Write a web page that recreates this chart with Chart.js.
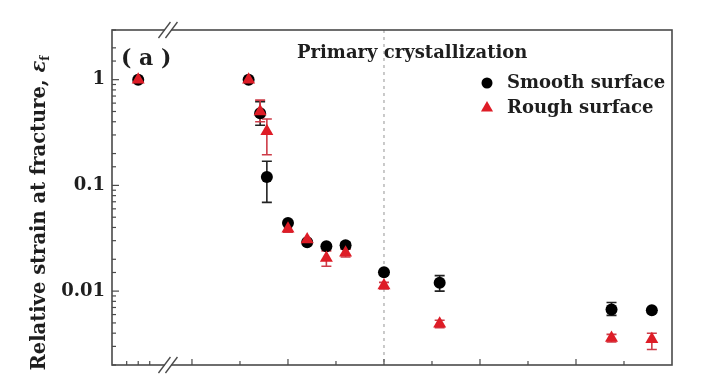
<!DOCTYPE html>
<html><head><meta charset="utf-8">
<script src="https://cdn.jsdelivr.net/npm/chart.js@4.4.1/dist/chart.umd.min.js"></script>
<style>html,body{margin:0;padding:0;background:#fff;}canvas{display:block}</style>
</head><body>
<canvas id="c" width="714" height="376"></canvas>
<script>
// ---- data ----
const xValues      = [44, 159, 171, 178, 200, 220, 240, 260, 300, 358, 537, 579];
const smoothValues = [1, 1, 0.48, 0.12, 0.044, 0.029, 0.0266, 0.0272, 0.0151, 0.012, 0.0067, 0.0066];
const smoothLow    = [null, null, 0.37, 0.069, null, null, null, 0.025, null, 0.0100, 0.0059, null];
const smoothHigh   = [null, null, 0.62, 0.169, null, null, null, 0.029, null, 0.0140, 0.0078, null];
const roughValues  = [1, 1, 0.50, 0.325, 0.0388, 0.0307, 0.0206, 0.023, 0.0113, 0.0049, 0.0036, 0.0035];
const roughLow     = [null, null, 0.40, 0.195, 0.036, null, 0.0172, 0.021, 0.0105, 0.0045, 0.0033, 0.0028];
const roughHigh    = [null, null, 0.64, 0.425, 0.042, null, 0.024, 0.025, 0.0121, 0.0053, 0.0039, 0.0040];
const yTickLabels  = [1, 0.1, 0.01];
const xMajorTicks  = [100, 200, 300, 400, 500];
const xMinorTicks  = [150, 250, 350, 450, 550];
const xPreBreakTicks = [32, 44, 56];
const breakX = 75;
const crystallizationX = 300;
const seriesNames = ['Smooth surface', 'Rough surface'];
const annotationText = 'Primary crystallization';
const panelLabel = '( a )';
const yTitle = ['Relative strain at fracture, ', 'ε', 'f'];

const FONT = '"DejaVu Serif", serif';
const FS = 18;
const TFS = 19.5;
const RED = 'rgb(222,28,38)';
const AXIS = '#4a4a4a';
const TEXT = '#1e1e1e';

const toPts = (ys) => xValues.map((x, i) => ({x, y: ys[i]}));

const decor = {
  id: 'decor',
  beforeDatasetsDraw(chart) {
    const {ctx, chartArea: a, scales: {x, y}} = chart;
    ctx.save();
    const px = x.getPixelForValue(crystallizationX);
    ctx.strokeStyle = '#b8b8b8'; ctx.lineWidth = 1.5; ctx.setLineDash([3, 4]);
    ctx.beginPath(); ctx.moveTo(px, a.top); ctx.lineTo(px, a.bottom); ctx.stroke();
    ctx.setLineDash([]);
    ctx.strokeStyle = AXIS; ctx.lineWidth = 1.6;
    ctx.strokeRect(a.left, a.top, a.right - a.left, a.bottom - a.top);
    ctx.lineWidth = 1.2;
    y.ticks.forEach(t => {
      const v = t.value;
      const lg = Math.log10(v);
      const major = Math.abs(lg - Math.round(lg)) < 1e-6;
      const py = y.getPixelForValue(v);
      if (py < a.top || py > a.bottom) return;
      ctx.beginPath(); ctx.moveTo(a.left, py); ctx.lineTo(a.left + (major ? 7 : 4), py); ctx.stroke();
    });
    const xt = (v, len) => { const p = x.getPixelForValue(v); ctx.beginPath(); ctx.moveTo(p, a.bottom); ctx.lineTo(p, a.bottom - len); ctx.stroke(); };
    xMajorTicks.forEach(v => xt(v, 6));
    xMinorTicks.forEach(v => xt(v, 4));
    xPreBreakTicks.forEach(v => xt(v, 4));
    const bars = (lo, hi, color) => {
      ctx.strokeStyle = color; ctx.lineWidth = 1.6;
      xValues.forEach((xv, i) => {
        if (lo[i] == null) return;
        const p = x.getPixelForValue(xv), y1 = y.getPixelForValue(lo[i]), y2 = y.getPixelForValue(hi[i]);
        ctx.beginPath();
        ctx.moveTo(p, y1); ctx.lineTo(p, y2);
        ctx.moveTo(p - 5, y1); ctx.lineTo(p + 5, y1);
        ctx.moveTo(p - 5, y2); ctx.lineTo(p + 5, y2);
        ctx.stroke();
      });
    };
    bars(smoothLow, smoothHigh, '#222');
    bars(roughLow, roughHigh, 'rgb(205,60,72)');
    ctx.restore();
  },
  afterDraw(chart) {
    const {ctx, chartArea: a, scales: {x}} = chart;
    ctx.save();
    const bx = x.getPixelForValue(breakX);
    [a.top, a.bottom].forEach(yy => {
      ctx.fillStyle = '#fff';
      ctx.fillRect(bx - 3, yy - 2, 6, 4);
      ctx.strokeStyle = AXIS; ctx.lineWidth = 1.4;
      [-3.5, 3.5].forEach(d => {
        ctx.beginPath(); ctx.moveTo(bx + d - 6, yy + 8); ctx.lineTo(bx + d + 6, yy - 8); ctx.stroke();
      });
    });
    ctx.fillStyle = TEXT;
    ctx.font = 'bold 22px ' + FONT; ctx.textBaseline = 'alphabetic'; ctx.textAlign = 'left';
    ctx.fillText(panelLabel, a.left + 9, 65);
    ctx.font = 'bold ' + FS + 'px ' + FONT;
    ctx.fillText(annotationText, 297, 58);
    ctx.textBaseline = 'middle';
    ctx.fillText(seriesNames[0], 507, 83);
    ctx.fillText(seriesNames[1], 507, 108);
    ctx.fillStyle = '#000';
    ctx.beginPath(); ctx.arc(487, 83, 5.5, 0, Math.PI * 2); ctx.fill();
    ctx.fillStyle = RED;
    const r = 7;
    ctx.beginPath();
    ctx.moveTo(487, 108 - r);
    ctx.lineTo(487 + r * Math.sin(2 * Math.PI / 3), 108 + r / 2);
    ctx.lineTo(487 - r * Math.sin(2 * Math.PI / 3), 108 + r / 2);
    ctx.closePath(); ctx.fill();
    ctx.fillStyle = TEXT;
    ctx.translate(38, 213); ctx.rotate(-Math.PI / 2);
    ctx.textBaseline = 'alphabetic';
    const f1 = 'bold ' + TFS + 'px ' + FONT, f2 = 'italic bold ' + TFS + 'px ' + FONT, f3 = 'bold 12px ' + FONT;
    ctx.font = f1; const w1 = ctx.measureText(yTitle[0]).width;
    ctx.font = f2; const w2 = ctx.measureText(yTitle[1]).width;
    ctx.font = f3; const w3 = ctx.measureText(yTitle[2]).width;
    let sx = -(w1 + w2 + w3) / 2;
    const base = 7;
    ctx.font = f1; ctx.fillText(yTitle[0], sx, base); sx += w1;
    ctx.font = f2; ctx.fillText(yTitle[1], sx, base); sx += w2;
    ctx.font = f3; ctx.fillText(yTitle[2], sx, base + 4);
    ctx.restore();
  }
};

new Chart(document.getElementById('c'), {
  type: 'scatter',
  data: {
    datasets: [
      { label: seriesNames[1], data: toPts(roughValues), pointStyle: 'triangle', pointRadius: 7.5,
        backgroundColor: RED, borderColor: RED, borderWidth: 0, order: 0 },
      { label: seriesNames[0], data: toPts(smoothValues), pointStyle: 'circle', pointRadius: 6,
        backgroundColor: '#000', borderColor: '#000', borderWidth: 0, order: 1 }
    ]
  },
  options: {
    responsive: false, animation: false, clip: false,
    layout: { padding: { top: 30, right: 42, bottom: 11, left: 0 } },
    plugins: { legend: { display: false }, tooltip: { enabled: false } },
    scales: {
      x: { type: 'linear', min: 16.7, max: 600, display: false },
      y: {
        type: 'logarithmic', min: 0.002, max: 2.95,
        afterFit: (s) => { s.width = 112; s.paddingTop = 0; s.paddingBottom = 0; },
        grid: { display: false, drawTicks: false },
        border: { display: false },
        ticks: {
          padding: 7, color: TEXT, font: { family: FONT, size: FS, weight: 'bold' },
          autoSkip: false,
          callback: (v) => yTickLabels.find(t => Math.abs(t - v) / t < 1e-6) !== undefined ? String(v) : ''
        }
      }
    }
  },
  plugins: [decor]
});
</script>
</body></html>
